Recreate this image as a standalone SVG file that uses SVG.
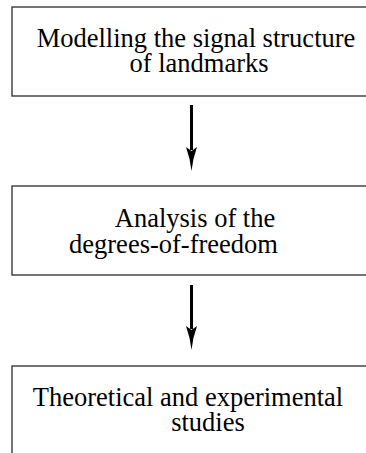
<svg xmlns="http://www.w3.org/2000/svg" width="366" height="453" viewBox="0 0 366 453">
<style>
.box{fill:#fff;stroke:#3a3a3a;stroke-width:1.4}
.lbl{font-family:"Liberation Serif","Times New Roman",serif;font-size:26.5px;fill:#000;text-anchor:middle}
.conn{stroke:#000;stroke-width:3;fill:none}
</style>
<defs>
<marker id="ah" viewBox="0 0 24 12" refX="3" refY="6" markerWidth="24" markerHeight="12" markerUnits="userSpaceOnUse" orient="auto">
<path d="M24,6 Q12,4.8 0,0.5 L4,6 L0,11.5 Q12,7.2 24,6 Z" fill="#000"/>
</marker>
</defs>
<rect width="366" height="453" fill="#fff"/>
<g id="node1">
<rect class="box" x="12" y="7" width="370" height="89"/>
<text class="lbl" x="196" y="46.5">Modelling the signal structure</text>
<text class="lbl" x="199" y="72">of landmarks</text>
</g>
<g id="node2">
<rect class="box" x="12" y="186" width="370" height="89"/>
<text class="lbl" x="195" y="227">Analysis of the</text>
<text class="lbl" x="173.5" y="253">degrees-of-freedom</text>
</g>
<g id="node3">
<rect class="box" x="12" y="366" width="370" height="100"/>
<text class="lbl" x="188" y="405.5">Theoretical and experimental</text>
<text class="lbl" x="208" y="431">studies</text>
</g>
<g id="connectors">
<line class="conn" x1="191.5" y1="105" x2="191.5" y2="150" marker-end="url(#ah)"/>
<line class="conn" x1="191.5" y1="285" x2="191.5" y2="329" marker-end="url(#ah)"/>
</g>
</svg>
